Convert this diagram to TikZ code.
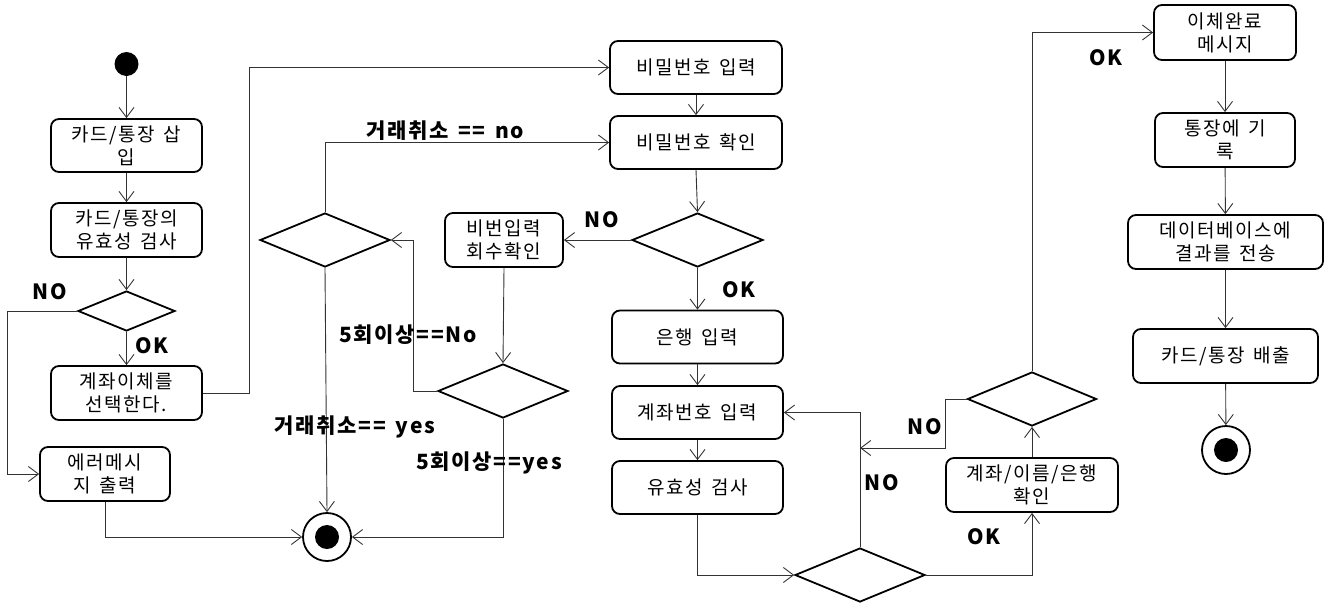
\documentclass[tikz,border=0pt]{standalone}
\usepackage{fontspec}
\newfontfamily\kr{Noto Sans CJK KR}[LetterSpace=8,WordSpace=1.5]
\usetikzlibrary{arrows.meta,shapes.geometric}
\begin{document}
\begin{tikzpicture}[x=1pt,y=-1pt,
  box/.style={draw, line width=1.8pt, rounded corners=8pt, inner sep=0pt, align=center,
    font=\kr\fontsize{19}{23}\selectfont},
  dia/.style={draw, diamond, line width=1.8pt, inner sep=0pt},
  lbl/.style={font=\kr\bfseries\fontsize{21}{25}\selectfont, inner sep=0pt},
  con/.style={draw=black!80, line width=0.9pt},
  arr/.style={con, -{Straight Barb[length=10pt,width=15pt]}},
  startnode/.style={circle, fill=black, minimum size=24pt, inner sep=0pt},
  endnode/.style={circle, draw, line width=1.8pt, minimum size=48pt, inner sep=0pt,
    path picture={\fill (path picture bounding box.center) circle (12pt);}},
]
\useasboundingbox (0,0) rectangle (1332,611);

% column 1
\node[startnode] (start) at (126.5,64) {};
\node[box, minimum width=151pt, minimum height=53pt] (b1) at (126.5,145.5) {카드/통장 삽\\입};
\node[box, minimum width=151pt, minimum height=54pt] (b2) at (126.5,230) {카드/통장의\\유효성 검사};
\node[dia, minimum width=97pt, minimum height=40pt] (d1) at (126.5,311) {};
\node[box, minimum width=151pt, minimum height=54pt] (b3) at (126.5,393) {계좌이체를\\선택한다.};
\node[box, minimum width=130pt, minimum height=54pt] (b4) at (105,474) {에러메시\\지 출력};
\node[endnode] (end1) at (327,537) {};

% column 2
\node[dia, minimum width=130pt, minimum height=54pt] (d4) at (325,240) {};
\node[box, minimum width=118pt, minimum height=54pt] (b5) at (504,240) {비번입력\\회수확인};
\node[dia, minimum width=130pt, minimum height=54pt] (d3) at (503,391) {};

% column 3
\node[box, minimum width=172pt, minimum height=53pt] (b6) at (696,67.5) {비밀번호 입력};
\node[box, minimum width=172pt, minimum height=53pt] (b7) at (696,142.5) {비밀번호 확인};
\node[dia, minimum width=131pt, minimum height=54pt] (d2) at (697.5,240) {};
\node[box, minimum width=171pt, minimum height=53pt] (b8) at (697.5,337) {은행 입력};
\node[box, minimum width=171pt, minimum height=53pt] (b9) at (697.5,412.5) {계좌번호 입력};
\node[box, minimum width=171pt, minimum height=53pt] (b10) at (697.5,487.5) {유효성 검사};
\node[dia, minimum width=130pt, minimum height=54pt] (d5) at (860,575) {};

% column 4
\node[box, minimum width=172pt, minimum height=54pt] (b11) at (1032,485) {계좌/이름/은행\\확인};
\node[dia, minimum width=129pt, minimum height=54pt] (d6) at (1032,399) {};
\coordinate (j1) at (860,448);

% column 5
\node[box, minimum width=142pt, minimum height=55pt] (b12) at (1225,32.5) {이체완료\\메시지};
\node[box, minimum width=140pt, minimum height=54pt] (b13) at (1225,140) {통장에 기\\록};
\node[box, minimum width=195pt, minimum height=54pt] (b14) at (1225.5,242) {데이터베이스에\\결과를 전송};
\node[box, minimum width=185pt, minimum height=54pt] (b15) at (1225.5,356) {카드/통장 배출};
\node[endnode] (end2) at (1226,450) {};

% connectors
\draw[arr] (start) -- (b1);
\draw[arr] (b1) -- (b2);
\draw[arr] (b2) -- (d1);
\draw[arr] (d1) -- (b3);
\draw[arr] (d1.west) -- ++(-70,0) |- (b4.west);
\draw[arr] (b4.south) |- (end1.west);
\draw[arr] (b3.east) -- ++(47,0) |- (b6.west);

\draw[arr] (d4.north) |- (b7.west);
\draw[arr] (d4.south) -- (end1.north);
\draw[arr] (d3.west) -- ++(-24,0) |- (d4.east);
\draw[arr] (d3.south) |- (end1.east);
\draw[arr] (b5.south) -- (d3.north);
\draw[arr] (d2.west) -- (b5.east);

\draw[arr] (b6) -- (b7);
\draw[arr] (b7.south) -- (d2.north);
\draw[arr] (d2.south) -- (b8.north);
\draw[arr] (b8) -- (b9);
\draw[arr] (b9) -- (b10);
\draw[arr] (b10.south) |- (d5.west);
\draw[arr] (d5.north) |- (b9.east);
\draw[arr] (d5.east) -| (b11.south);
\draw[arr] (b11.north) -- (d6.south);
\draw[arr] (d6.west) -- ++(-21,0) |- (j1);
\draw[arr] (d6.north) |- (b12.west);

\draw[arr] (b12) -- (b13);
\draw[arr] (b13) -- (b14);
\draw[arr] (b14) -- (b15);
\draw[arr] (b15) -- (end2);

% labels
\node[lbl] (l1) at (50,292) {NO};
\node[lbl] (l2) at (152,346) {OK};
\node[lbl] (l3) at (445,131) {거래취소 == no};
\node[lbl] (l4) at (602,220) {NO};
\node[lbl] (l5) at (739,290) {OK};
\node[lbl] (l6) at (408,335) {5회이상==No};
\node[lbl] (l7) at (355,427) {거래취소== yes};
\node[lbl] (l8) at (489,463) {5회이상==yes};
\node[lbl] (l9) at (925,427) {NO};
\node[lbl] (l10) at (882,483) {NO};
\node[lbl] (l11) at (984,537) {OK};
\node[lbl] (l12) at (1106,58) {OK};
\end{tikzpicture}
\end{document}
